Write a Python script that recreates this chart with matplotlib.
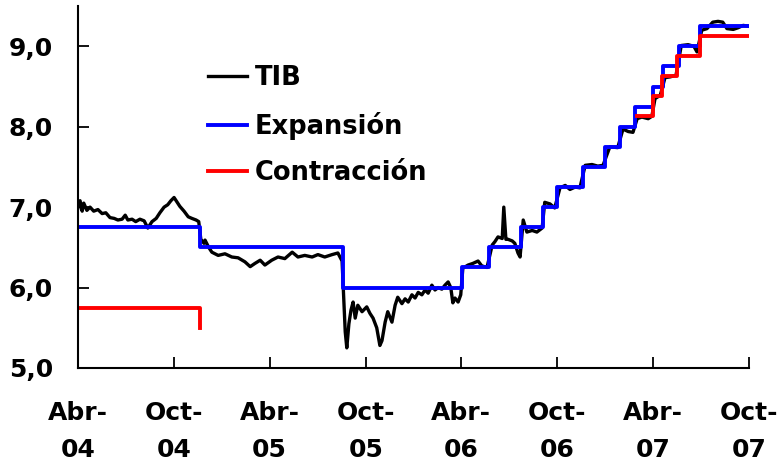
import matplotlib
matplotlib.use("Agg")
import matplotlib.pyplot as plt
import pandas as pd

plt.rcParams['font.family'] = ['DejaVu Sans']
plt.rcParams['font.weight'] = 'bold'

# TIB (tasa interbancaria)
tib_dates = [
    "2004-04-01", "2004-04-05", "2004-04-09", "2004-04-12", "2004-04-18", "2004-04-24",
    "2004-05-01", "2004-05-09", "2004-05-17", "2004-05-24", "2004-06-01", "2004-06-09",
    "2004-06-16", "2004-06-24", "2004-06-30", "2004-07-05", "2004-07-13", "2004-07-20",
    "2004-07-28", "2004-08-05", "2004-08-12", "2004-08-20", "2004-08-28", "2004-09-04",
    "2004-09-12", "2004-09-19", "2004-09-25", "2004-10-01", "2004-10-07", "2004-10-12",
    "2004-10-20", "2004-10-28", "2004-11-04", "2004-11-12", "2004-11-17", "2004-11-21",
    "2004-11-27", "2004-11-29", "2004-12-06", "2004-12-12", "2004-12-24", "2005-01-06",
    "2005-01-19", "2005-01-31", "2005-02-13", "2005-02-23", "2005-03-04", "2005-03-14",
    "2005-03-23", "2005-04-05", "2005-04-17", "2005-04-30", "2005-05-14", "2005-05-25",
    "2005-06-07", "2005-06-21", "2005-07-02", "2005-07-15", "2005-07-29", "2005-08-09",
    "2005-08-17", "2005-08-23", "2005-08-26", "2005-08-30", "2005-09-03", "2005-09-07",
    "2005-09-11", "2005-09-16", "2005-09-24", "2005-10-03", "2005-10-09", "2005-10-15",
    "2005-10-22", "2005-10-28", "2005-11-01", "2005-11-07", "2005-11-12", "2005-11-20",
    "2005-11-26", "2005-12-01", "2005-12-09", "2005-12-15", "2005-12-21", "2005-12-28",
    "2006-01-03", "2006-01-09", "2006-01-16", "2006-01-22", "2006-01-28", "2006-02-04",
    "2006-02-10", "2006-02-16", "2006-02-23", "2006-03-01", "2006-03-07", "2006-03-12",
    "2006-03-16", "2006-03-20", "2006-03-26", "2006-03-31", "2006-04-04", "2006-04-14",
    "2006-04-23", "2006-05-03", "2006-05-10", "2006-05-20", "2006-05-30", "2006-06-04",
    "2006-06-10", "2006-06-18", "2006-06-21", "2006-06-25", "2006-06-29", "2006-07-07",
    "2006-07-12", "2006-07-18", "2006-07-22", "2006-07-28", "2006-08-04", "2006-08-14",
    "2006-08-23", "2006-09-02", "2006-09-07", "2006-09-17", "2006-09-26", "2006-10-06",
    "2006-10-16", "2006-10-25", "2006-11-04", "2006-11-13", "2006-11-23", "2006-12-06",
    "2006-12-17", "2006-12-27", "2007-01-09", "2007-01-24", "2007-02-03", "2007-02-13",
    "2007-02-22", "2007-03-02", "2007-03-11", "2007-03-23", "2007-03-30", "2007-04-05",
    "2007-04-15", "2007-04-24", "2007-05-04", "2007-05-15", "2007-05-25", "2007-06-07",
    "2007-06-18", "2007-06-24", "2007-07-03", "2007-07-13", "2007-07-24", "2007-08-03",
    "2007-08-12", "2007-08-20", "2007-09-01", "2007-09-10", "2007-09-20", "2007-09-29",
]
tib_values = [
    6.99, 7.08, 6.95, 7.05, 6.96, 7.00,
    6.95, 6.97, 6.92, 6.93, 6.87, 6.86,
    6.84, 6.85, 6.90, 6.84, 6.85, 6.82,
    6.85, 6.83, 6.74, 6.82, 6.86, 6.93,
    7.00, 7.03, 7.08, 7.12, 7.06, 7.01,
    6.95, 6.88, 6.86, 6.84, 6.82, 6.60,
    6.55, 6.59, 6.50, 6.44, 6.40, 6.42,
    6.38, 6.37, 6.32, 6.26, 6.30, 6.34,
    6.28, 6.34, 6.38, 6.36, 6.44, 6.38,
    6.40, 6.38, 6.41, 6.38, 6.41, 6.43,
    6.33, 5.45, 5.25, 5.55, 5.72, 5.82,
    5.62, 5.78, 5.70, 5.76, 5.68, 5.62,
    5.50, 5.28, 5.34, 5.57, 5.70, 5.57,
    5.78, 5.88, 5.80, 5.86, 5.82, 5.91,
    5.87, 5.94, 5.91, 5.97, 5.93, 6.03,
    5.97, 6.00, 5.98, 6.03, 6.07, 6.00,
    5.81, 5.87, 5.82, 5.91, 6.24, 6.28,
    6.30, 6.33, 6.27, 6.25, 6.53, 6.57,
    6.63, 6.61, 7.00, 6.60, 6.60, 6.58,
    6.55, 6.43, 6.38, 6.84, 6.69, 6.71,
    6.69, 6.74, 7.06, 7.04, 6.99, 7.24,
    7.27, 7.22, 7.25, 7.24, 7.52, 7.53,
    7.51, 7.52, 7.75, 7.74, 7.97, 7.94,
    7.93, 8.10, 8.12, 8.10, 8.13, 8.35,
    8.39, 8.61, 8.62, 8.64, 9.01, 9.02,
    9.00, 8.93, 9.20, 9.22, 9.30, 9.31,
    9.30, 9.22, 9.21, 9.23, 9.26, 9.25,
]

# Tasa de expansion (step changes)
exp_dates = ["2004-04-01", "2004-11-19", "2005-08-19", "2006-04-02", "2006-05-24",
             "2006-07-24", "2006-09-04", "2006-09-30", "2006-11-19", "2006-12-31",
             "2007-01-28", "2007-02-26", "2007-04-01", "2007-04-20", "2007-05-21",
             "2007-06-30", "2007-10-01"]
exp_values = [6.75, 6.50, 6.00, 6.25, 6.50,
              6.75, 7.00, 7.25, 7.50, 7.75,
              8.00, 8.25, 8.50, 8.75, 9.00,
              9.25, 9.25]

# Tasa de contraccion: two separate periods
con1_dates = ["2004-04-01", "2004-11-19"]
con1_values = [5.75, 5.50]
con2_dates = ["2007-03-02", "2007-04-01", "2007-04-18", "2007-05-17", "2007-06-30", "2007-10-01"]
con2_values = [8.13, 8.38, 8.63, 8.88, 9.13, 9.13]

tick_dates = ["2004-04-01", "2004-10-01", "2005-04-01", "2005-10-01",
              "2006-04-01", "2006-10-01", "2007-04-01", "2007-10-01"]
tick_labels = ["Abr-\n04", "Oct-\n04", "Abr-\n05", "Oct-\n05",
               "Abr-\n06", "Oct-\n06", "Abr-\n07", "Oct-\n07"]
y_ticks = [5.0, 6.0, 7.0, 8.0, 9.0]
y_labels = ["5,0", "6,0", "7,0", "8,0", "9,0"]

fig = plt.figure(figsize=(7.82, 4.68), dpi=100)
ax = fig.add_axes([0.0997, 0.2137, 0.8581, 0.7733])

ax.plot(pd.to_datetime(tib_dates), tib_values, color="black", lw=2.4, label="TIB")
ax.step(pd.to_datetime(exp_dates), exp_values, where="post", color="#0000ff", lw=2.8,
        label="Expansión")
ax.step(pd.to_datetime(con1_dates), con1_values, where="post", color="#ff0000", lw=2.8,
        label="Contracción")
ax.step(pd.to_datetime(con2_dates), con2_values, where="post", color="#ff0000", lw=2.8)

ax.set_xlim(pd.Timestamp("2004-04-01"), pd.Timestamp("2007-10-01"))
ax.set_ylim(5.0, 9.5)
ax.set_xticks(pd.to_datetime(tick_dates))
ax.set_xticklabels(tick_labels, fontsize=18, fontweight="bold", linespacing=1.65)
ax.set_yticks(y_ticks)
ax.set_yticklabels(y_labels, fontsize=18, fontweight="bold")
ax.tick_params(axis="x", direction="in", length=8, width=1.3, pad=24)
ax.tick_params(axis="y", direction="in", length=8, width=1.3, pad=18)

for s in ["top", "right"]:
    ax.spines[s].set_visible(False)
for s in ["left", "bottom"]:
    ax.spines[s].set_linewidth(1.5)

ax.legend(loc="upper left", bbox_to_anchor=(198 / 782, 1 - 55 / 468),
          bbox_transform=fig.transFigure, frameon=False,
          prop={"size": 18.5, "weight": "bold"}, handlelength=1.5,
          handletextpad=0.3, labelspacing=0.8, borderaxespad=0)

fig.savefig("out.png", dpi=100)
